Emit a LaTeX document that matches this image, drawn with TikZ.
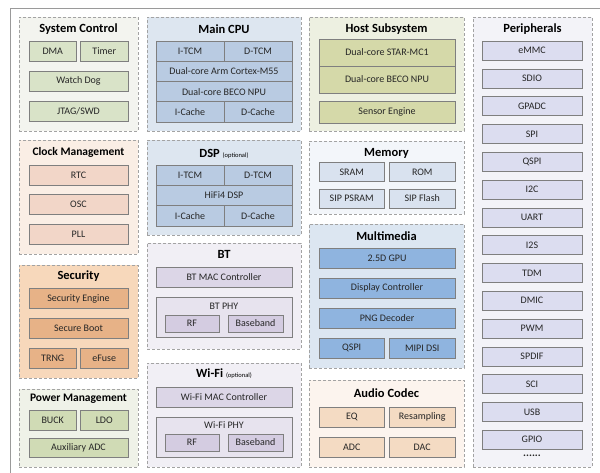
\documentclass[tikz,border=0pt]{standalone}
\usepackage{fontspec}
\setmainfont{Carlito}

\definecolor{framegray}{HTML}{9A9A9A}
\definecolor{grpgray}{HTML}{A3A3A3}
\definecolor{cellgray}{HTML}{7F7F7F}
\definecolor{sysgrp}{HTML}{F3F4EF}
\definecolor{sysbox}{HTML}{D9E3C8}
\definecolor{clkgrp}{HTML}{FAEEE5}
\definecolor{clkbox}{HTML}{F2D6C8}
\definecolor{secgrp}{HTML}{F7D8BB}
\definecolor{secbox}{HTML}{E7B287}
\definecolor{pwrgrp}{HTML}{EFF2E8}
\definecolor{pwrbox}{HTML}{D0DBB5}
\definecolor{cpugrp}{HTML}{DDE6F0}
\definecolor{cpubox}{HTML}{B9CBE2}
\definecolor{btgrp}{HTML}{F1EFF5}
\definecolor{btbox}{HTML}{DCD6E7}
\definecolor{btphy}{HTML}{E7E3EE}
\definecolor{btrf}{HTML}{D4CCE1}
\definecolor{hostgrp}{HTML}{EDF0E1}
\definecolor{hostbox}{HTML}{D5D9A9}
\definecolor{memgrp}{HTML}{F3F6FA}
\definecolor{membox}{HTML}{D9E2EF}
\definecolor{mmgrp}{HTML}{DCE6F1}
\definecolor{mmbox}{HTML}{8FB4DF}
\definecolor{audgrp}{HTML}{FCF4EE}
\definecolor{audbox}{HTML}{F4DBC3}
\definecolor{pergrp}{HTML}{F3F3F8}
\definecolor{perbox}{HTML}{DCDDF0}

\tikzset{
	grp/.style={draw=grpgray, dash pattern=on 3pt off 2pt, line width=0.9pt, inner sep=0},
	cell/.style={draw=cellgray, line width=0.6pt, inner sep=0, minimum height=20pt,
		text=black!85, font=\fontsize{10}{12}\selectfont},
	ttl/.style={inner sep=0, font=\fontsize{12.5}{14}\selectfont\bfseries},
	ttlsmall/.style={inner sep=0, font=\fontsize{11.5}{13}\selectfont\bfseries},
	lbl/.style={inner sep=0, text=black!85, font=\fontsize{10}{12}\selectfont},
	c1full/.style={minimum width=99pt},
	c1half/.style={minimum width=47.5pt},
	c2full/.style={minimum width=136pt},
	c2half/.style={minimum width=68pt},
	c3full/.style={minimum width=136pt},
	c3half/.style={minimum width=65.5pt},
	c4full/.style={minimum width=100pt},
}

\begin{document}
\begin{tikzpicture}[x=1pt, y=-1pt]
	\useasboundingbox (0,0) rectangle (600,472);
	\draw[framegray, line width=1pt] (10,480) -- (10,8) -- (610,8);

	\node[grp, fill=sysgrp, minimum width=119pt, minimum height=114pt] (sysctl) at (78.5,74) {};
	\node[ttl] (sysctl-t) at (78.5,29) {System Control};
	\node[cell, c1half, fill=sysbox] (dma) at (52.75,51.5) {DMA};
	\node[cell, c1half, fill=sysbox] (timer) at (104.25,51.5) {Timer};
	\node[cell, c1full, fill=sysbox] (watchdog) at (78.5,81) {Watch Dog};
	\node[cell, c1full, fill=sysbox] (jtag) at (78.5,111) {JTAG/SWD};

	\node[grp, fill=clkgrp, minimum width=119pt, minimum height=114pt] (clkmgmt) at (78.5,197) {};
	\node[ttlsmall] (clkmgmt-t) at (78.5,152) {Clock Management};
	\node[cell, c1full, fill=clkbox] (rtc) at (78.5,175) {RTC};
	\node[cell, c1full, fill=clkbox] (osc) at (78.5,204.5) {OSC};
	\node[cell, c1full, fill=clkbox] (pll) at (78.5,234) {PLL};

	\node[grp, fill=secgrp, minimum width=119pt, minimum height=113pt] (security) at (78.5,321.5) {};
	\node[ttl] (security-t) at (78.5,276) {Security};
	\node[cell, c1full, fill=secbox] (seceng) at (78.5,298.5) {Security Engine};
	\node[cell, c1full, fill=secbox] (secboot) at (78.5,328.5) {Secure Boot};
	\node[cell, c1half, fill=secbox] (trng) at (52.75,358) {TRNG};
	\node[cell, c1half, fill=secbox] (efuse) at (104.25,358) {eFuse};

	\node[grp, fill=pwrgrp, minimum width=119pt, minimum height=78pt] (pwrmgmt) at (78.5,428) {};
	\node[ttlsmall] (pwrmgmt-t) at (78.5,399) {Power Management};
	\node[cell, c1half, fill=pwrbox] (buck) at (52.75,420) {BUCK};
	\node[cell, c1half, fill=pwrbox] (ldo) at (104.25,420) {LDO};
	\node[cell, c1full, fill=pwrbox, minimum height=19pt] (auxadc) at (78.5,447.5) {Auxiliary ADC};

	\node[grp, fill=cpugrp, minimum width=154pt, minimum height=114pt] (maincpu) at (224,74) {};
	\node[ttl] (maincpu-t) at (224,29) {Main CPU};
	\node[cell, c2half, fill=cpubox, minimum height=20.25pt] (cpu-itcm) at (190,51.125) {I-TCM};
	\node[cell, c2half, fill=cpubox, minimum height=20.25pt] (cpu-dtcm) at (258,51.125) {D-TCM};
	\node[cell, c2full, fill=cpubox, minimum height=20.25pt] (cpu-arm) at (224,71.375) {Dual-core Arm Cortex-M55};
	\node[cell, c2full, fill=cpubox, minimum height=20.25pt] (cpu-npu) at (224,91.625) {Dual-core BECO NPU};
	\node[cell, c2half, fill=cpubox, minimum height=20.25pt] (cpu-icache) at (190,111.875) {I-Cache};
	\node[cell, c2half, fill=cpubox, minimum height=20.25pt] (cpu-dcache) at (258,111.875) {D-Cache};

	\node[grp, fill=cpugrp, minimum width=154pt, minimum height=95pt] (dsp) at (224,187.5) {};
	\node[ttl] (dsp-t) at (224,154) {DSP {\fontsize{6.5}{7}\selectfont\mdseries (optional)}};
	\node[cell, c2half, fill=cpubox, minimum height=20.33pt] (dsp-itcm) at (190,175.17) {I-TCM};
	\node[cell, c2half, fill=cpubox, minimum height=20.33pt] (dsp-dtcm) at (258,175.17) {D-TCM};
	\node[cell, c2full, fill=cpubox, minimum height=20.33pt] (dsp-hifi) at (224,195.5) {HiFi4 DSP};
	\node[cell, c2half, fill=cpubox, minimum height=20.33pt] (dsp-icache) at (190,215.83) {I-Cache};
	\node[cell, c2half, fill=cpubox, minimum height=20.33pt] (dsp-dcache) at (258,215.83) {D-Cache};

	\node[grp, fill=btgrp, minimum width=154pt, minimum height=106pt] (bt) at (224,296) {};
	\node[ttl] (bt-t) at (224,254) {BT};
	\node[cell, c2full, fill=btbox] (bt-mac) at (224,277) {BT MAC Controller};
	\node[cell, c2full, fill=btphy, minimum height=40pt] (bt-phy) at (224,317) {};
	\node[lbl] (bt-phy-t) at (224,306) {BT PHY};
	\node[cell, fill=btrf, minimum width=54pt, minimum height=17pt] (bt-rf) at (192,323.5) {RF};
	\node[cell, fill=btrf, minimum width=55pt, minimum height=17pt] (bt-bb) at (255.5,323.5) {Baseband};

	\node[grp, fill=btgrp, minimum width=154pt, minimum height=104pt] (wifi) at (224,415) {};
	\node[ttl] (wifi-t) at (224,374) {Wi-Fi {\fontsize{6.5}{7}\selectfont\mdseries (optional)}};
	\node[cell, c2full, fill=btbox] (wifi-mac) at (224,397) {Wi-Fi MAC Controller};
	\node[cell, c2full, fill=btphy, minimum height=40pt] (wifi-phy) at (224,437) {};
	\node[lbl] (wifi-phy-t) at (224,425) {Wi-Fi PHY};
	\node[cell, fill=btrf, minimum width=54pt, minimum height=17pt] (wifi-rf) at (192,442.5) {RF};
	\node[cell, fill=btrf, minimum width=55pt, minimum height=17pt] (wifi-bb) at (255.5,442.5) {Baseband};

	\node[grp, fill=hostgrp, minimum width=155pt, minimum height=114pt] (host) at (386.5,74) {};
	\node[ttl] (host-t) at (386.5,29) {Host Subsystem};
	\node[cell, c3full, fill=hostbox, minimum height=27pt] (host-mc) at (387,52.5) {Dual-core STAR-MC1};
	\node[cell, c3full, fill=hostbox, minimum height=27pt] (host-npu) at (387,79.5) {Dual-core BECO NPU};
	\node[cell, c3full, fill=hostbox, minimum height=22pt] (host-sensor) at (387,112) {Sensor Engine};

	\node[grp, fill=memgrp, minimum width=155pt, minimum height=73pt] (memory) at (386.5,177.5) {};
	\node[ttl] (memory-t) at (386.5,153) {Memory};
	\node[cell, c3half, fill=membox, minimum height=19pt] (sram) at (351.75,172) {SRAM};
	\node[cell, c3half, fill=membox, minimum height=19pt] (rom) at (422.25,172) {ROM};
	\node[cell, c3half, fill=membox, minimum height=19pt] (psram) at (351.75,198.5) {SIP PSRAM};
	\node[cell, c3half, fill=membox, minimum height=19pt] (flash) at (422.25,198.5) {SIP Flash};

	\node[grp, fill=mmgrp, minimum width=155pt, minimum height=144pt] (mm) at (386.5,296) {};
	\node[ttl] (mm-t) at (386.5,236) {Multimedia};
	\node[cell, c3full, fill=mmbox] (gpu) at (387,258) {2.5D GPU};
	\node[cell, c3full, fill=mmbox] (dispctl) at (387,288) {Display Controller};
	\node[cell, c3full, fill=mmbox] (png) at (387,318) {PNG Decoder};
	\node[cell, c3half, fill=mmbox] (mm-qspi) at (351.75,348) {QSPI};
	\node[cell, c3half, fill=mmbox] (mipi) at (422.25,348) {MIPI DSI};

	\node[grp, fill=audgrp, minimum width=155pt, minimum height=87pt] (audio) at (386.5,423.5) {};
	\node[ttl] (audio-t) at (386.5,393) {Audio Codec};
	\node[cell, c3half, fill=audbox] (eq) at (351.75,417) {EQ};
	\node[cell, c3half, fill=audbox] (resamp) at (422.25,417) {Resampling};
	\node[cell, c3half, fill=audbox] (adc) at (351.75,447) {ADC};
	\node[cell, c3half, fill=audbox] (dac) at (422.25,447) {DAC};

	\node[grp, fill=pergrp, minimum width=119pt, minimum height=450pt] (periph) at (532.5,242) {};
	\node[ttl] (periph-t) at (532.5,29) {Peripherals};
	\node[cell, c4full, fill=perbox, minimum height=19pt] (emmc) at (532,50.5) {eMMC};
	\node[cell, c4full, fill=perbox, minimum height=19pt] (sdio) at (532,78.3) {SDIO};
	\node[cell, c4full, fill=perbox, minimum height=19pt] (gpadc) at (532,106.1) {GPADC};
	\node[cell, c4full, fill=perbox, minimum height=19pt] (spi) at (532,133.9) {SPI};
	\node[cell, c4full, fill=perbox, minimum height=19pt] (qspi) at (532,161.7) {QSPI};
	\node[cell, c4full, fill=perbox, minimum height=19pt] (i2c) at (532,189.5) {I2C};
	\node[cell, c4full, fill=perbox, minimum height=19pt] (uart) at (532,217.3) {UART};
	\node[cell, c4full, fill=perbox, minimum height=19pt] (i2s) at (532,245.1) {I2S};
	\node[cell, c4full, fill=perbox, minimum height=19pt] (tdm) at (532,272.9) {TDM};
	\node[cell, c4full, fill=perbox, minimum height=19pt] (dmic) at (532,300.7) {DMIC};
	\node[cell, c4full, fill=perbox, minimum height=19pt] (pwm) at (532,328.5) {PWM};
	\node[cell, c4full, fill=perbox, minimum height=19pt] (spdif) at (532,356.3) {SPDIF};
	\node[cell, c4full, fill=perbox, minimum height=19pt] (sci) at (532,384.1) {SCI};
	\node[cell, c4full, fill=perbox, minimum height=19pt] (usb) at (532,411.9) {USB};
	\node[cell, c4full, fill=perbox, minimum height=19pt] (gpio) at (532,439.7) {GPIO};
	\node[lbl, font=\fontsize{11}{12}\selectfont\bfseries] (more) at (532,455.5) {......};
\end{tikzpicture}
\end{document}
